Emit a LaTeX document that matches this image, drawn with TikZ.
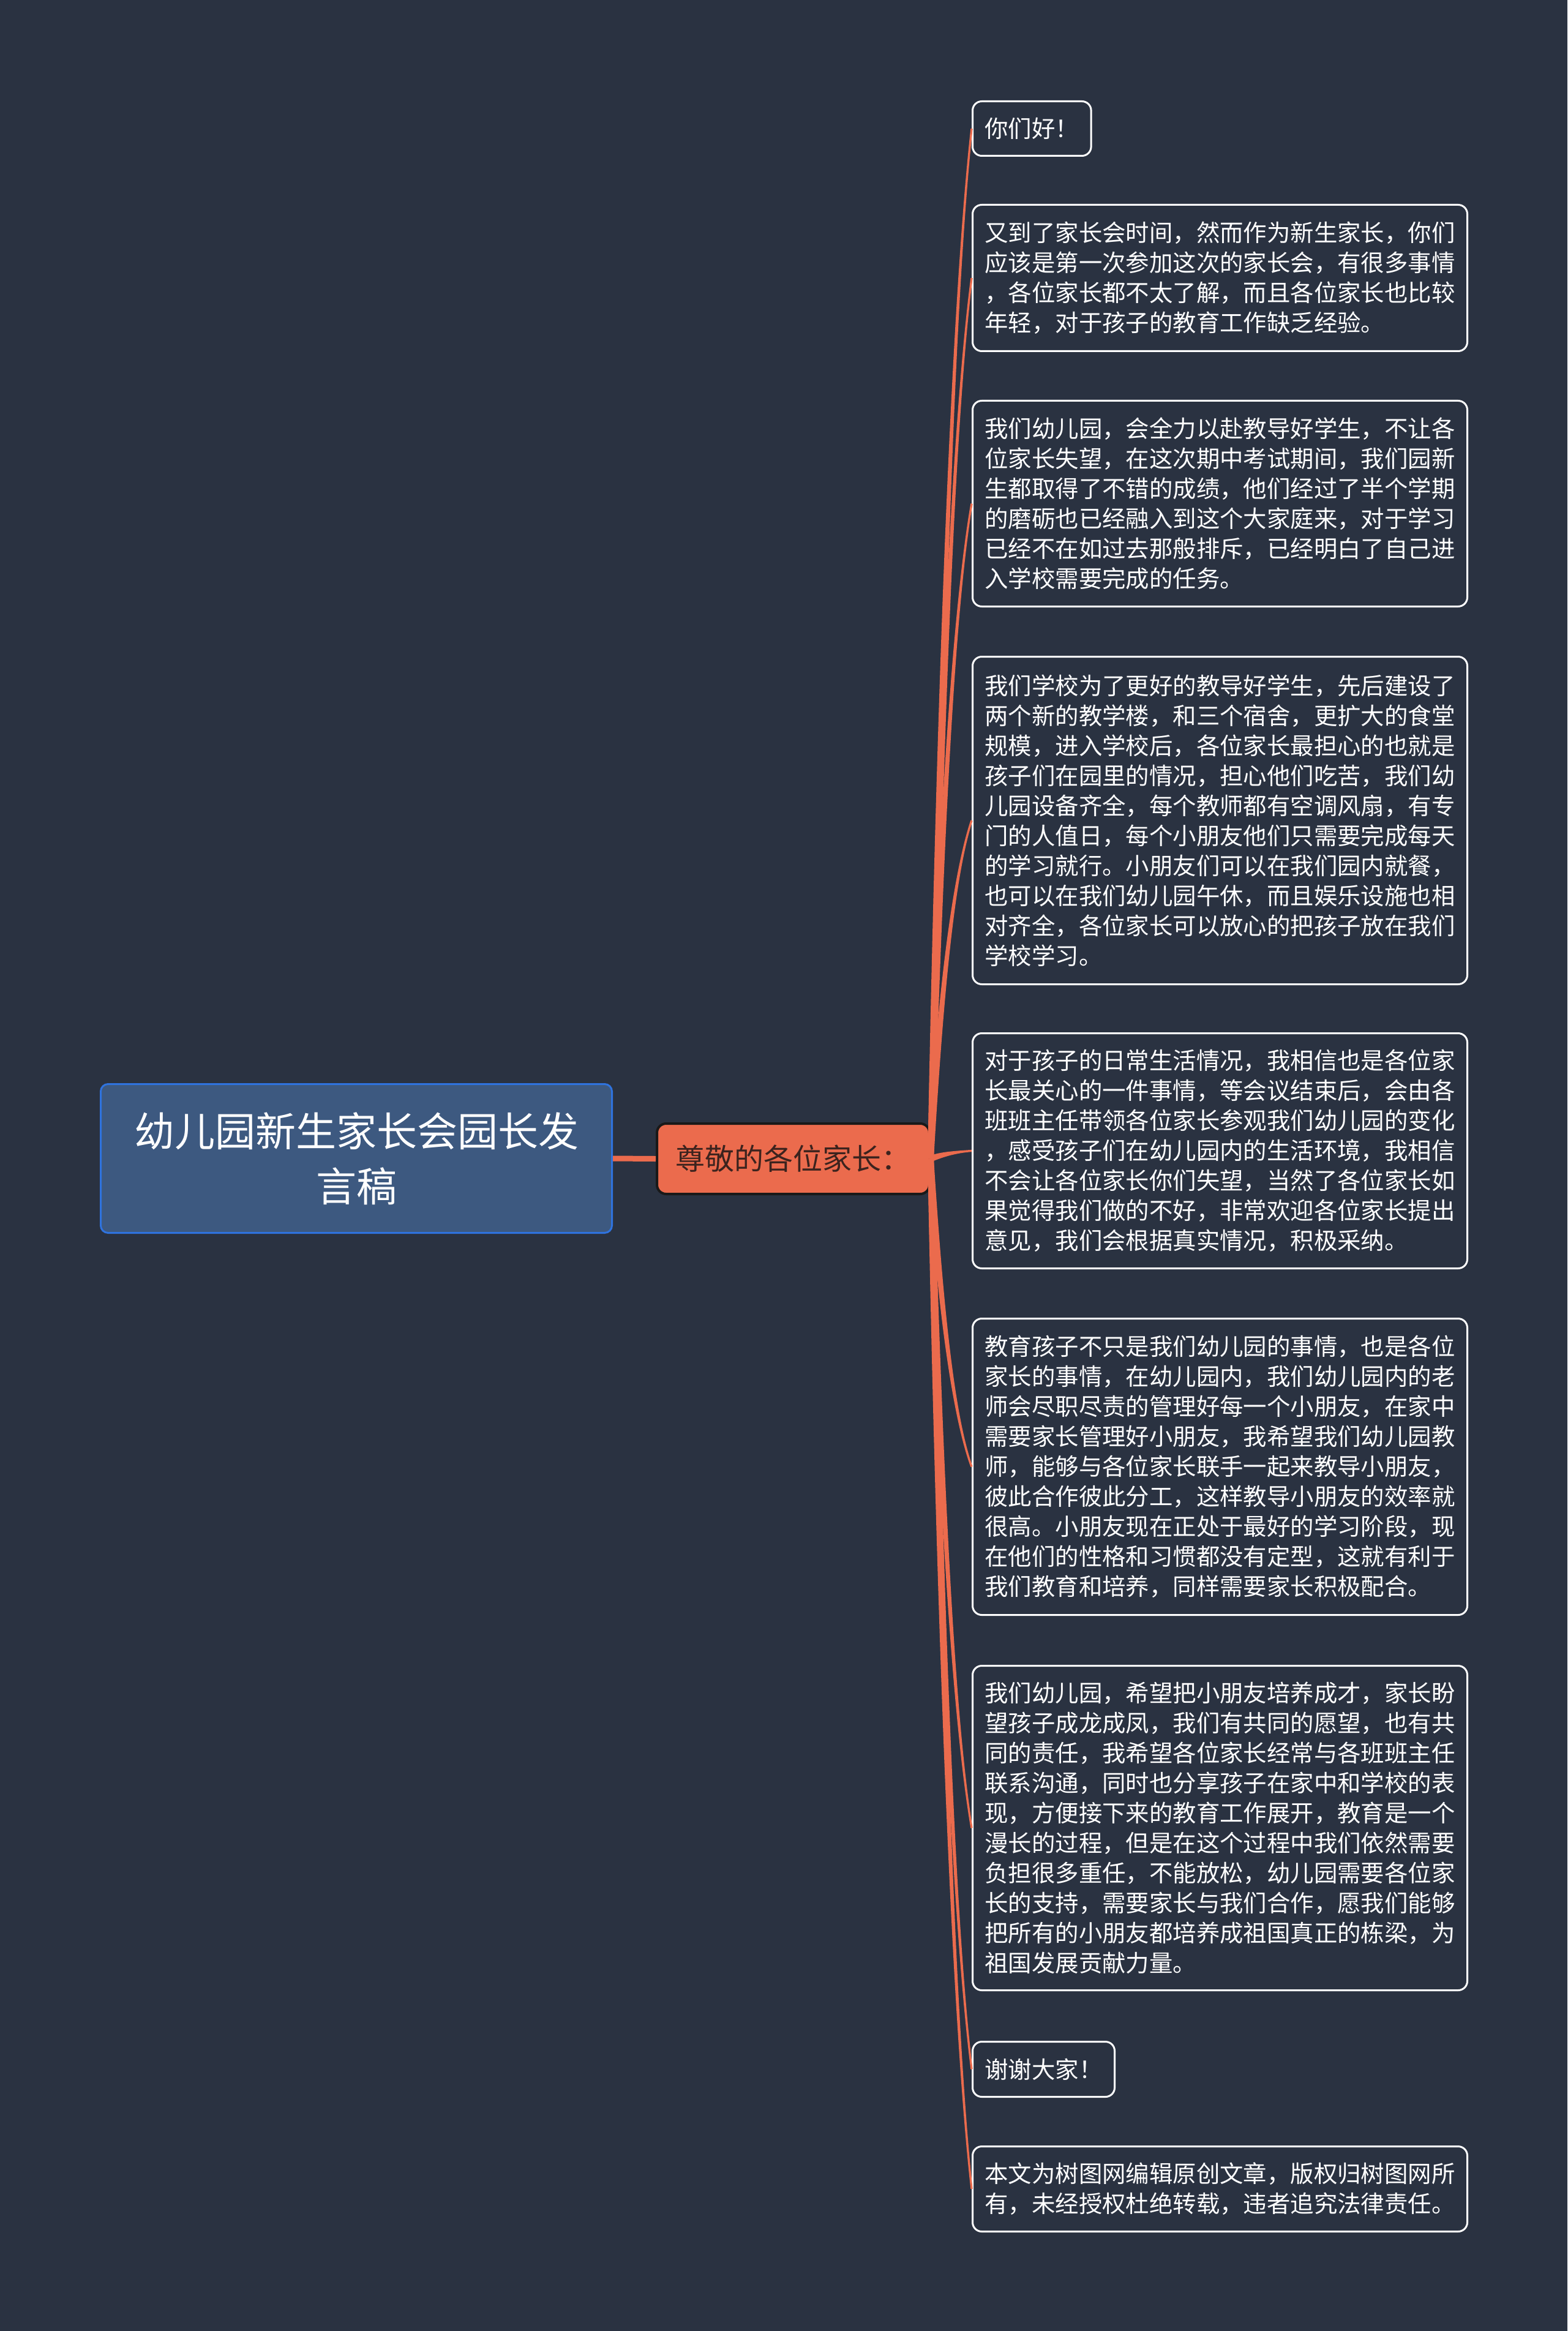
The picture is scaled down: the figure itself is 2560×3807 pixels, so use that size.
\documentclass[tikz,border=0pt]{standalone}
\usepackage{fontspec}
\setmainfont{Noto Sans CJK SC}
\usetikzlibrary{calc}
\definecolor{bgc}{RGB}{42,50,65}
\definecolor{orangec}{RGB}{235,107,77}
\definecolor{rootfill}{RGB}{61,89,128}
\definecolor{rootline}{RGB}{47,115,222}
\definecolor{midtext}{RGB}{60,35,30}
\definecolor{midline}{RGB}{25,25,25}
\newcommand\branchto[2]{%
  \fill[orangec] let \p1=(#1), \p2=(#2),
    \n1={\x2-\x1}, \n2={\y2-\y1},
    \n3={atan2(0.5133*(\n2),0.2467*(\n1))},
    \n4={atan2(0.1533*(\n2),0.42*(\n1))}
  in ($(\p1)+({\n3+90}:1.25pt)$)
   .. controls ($(\p1)+({0.2467*(\n1)*1pt},{0.5133*(\n2)*1pt})+({\n3+90}:1.25pt)$)
   and ($(\p2)+({-0.42*(\n1)*1pt},{-0.1533*(\n2)*1pt})+({\n4+90}:0.42pt)$)
   .. ($(\p2)+({\n4+90}:0.42pt)$)
   -- ($(\p2)+({\n4-90}:0.42pt)$)
   .. controls ($(\p2)+({-0.42*(\n1)*1pt},{-0.1533*(\n2)*1pt})+({\n4-90}:0.42pt)$)
   and ($(\p1)+({0.2467*(\n1)*1pt},{0.5133*(\n2)*1pt})+({\n3-90}:1.25pt)$)
   .. ($(\p1)+({\n3-90}:1.25pt)$) -- cycle;
}
\begin{document}
\begin{tikzpicture}[x=0.25pt,y=-0.25pt,
  leafbox/.style={draw=white, line width=0.75pt, rounded corners=3.75pt, fill=bgc,
    text=white, font=\fontsize{9.6pt}{12.25pt}\selectfont, align=left,
    anchor=north west, inner xsep=5pt, inner ysep=0pt},
  rootbox/.style={draw=rootline, line width=0.75pt, rounded corners=3pt, fill=rootfill,
    text=white, font=\fontsize{16.5pt}{22.5pt}\selectfont, align=center,
    anchor=north west, inner sep=0pt},
  midbox/.style={draw=midline, line width=1pt, rounded corners=3.75pt, fill=orangec,
    text=midtext, font=\fontsize{12pt}{14pt}\selectfont, align=center,
    anchor=north west, inner sep=0pt}]
\fill[bgc] (0,0) rectangle (2560,3807);
\useasboundingbox (0,0) rectangle (2560,3807);

\node[rootbox, minimum width=208.75pt, minimum height=60.75pt] (root) at (163,1769) {幼儿园新生家长会园长发\\言稿};
\node[midbox, minimum width=111.25pt, minimum height=28.75pt] (mid) at (1071,1833) {尊敬的各位家长：};

\node[leafbox, minimum width=48pt, minimum height=22.25pt] (l1) at (1587,164) {你们好！};
\node[leafbox, minimum width=202pt, minimum height=59.75pt] (l2) at (1587,333) {又到了家长会时间，然而作为新生家长，你们\\应该是第一次参加这次的家长会，有很多事情\\，各位家长都不太了解，而且各位家长也比较\\年轻，对于孩子的教育工作缺乏经验。};
\node[leafbox, minimum width=202pt, minimum height=84pt] (l3) at (1587,653) {我们幼儿园，会全力以赴教导好学生，不让各\\位家长失望，在这次期中考试期间，我们园新\\生都取得了不错的成绩，他们经过了半个学期\\的磨砺也已经融入到这个大家庭来，对于学习\\已经不在如过去那般排斥，已经明白了自己进\\入学校需要完成的任务。};
\node[leafbox, minimum width=202pt, minimum height=133.75pt] (l4) at (1587,1071) {我们学校为了更好的教导好学生，先后建设了\\两个新的教学楼，和三个宿舍，更扩大的食堂\\规模，进入学校后，各位家长最担心的也就是\\孩子们在园里的情况，担心他们吃苦，我们幼\\儿园设备齐全，每个教师都有空调风扇，有专\\门的人值日，每个小朋友他们只需要完成每天\\的学习就行。小朋友们可以在我们园内就餐，\\也可以在我们幼儿园午休，而且娱乐设施也相\\对齐全，各位家长可以放心的把孩子放在我们\\学校学习。};
\node[leafbox, minimum width=202pt, minimum height=96pt] (l5) at (1587,1686) {对于孩子的日常生活情况，我相信也是各位家\\长最关心的一件事情，等会议结束后，会由各\\班班主任带领各位家长参观我们幼儿园的变化\\，感受孩子们在幼儿园内的生活环境，我相信\\不会让各位家长你们失望，当然了各位家长如\\果觉得我们做的不好，非常欢迎各位家长提出\\意见，我们会根据真实情况，积极采纳。};
\node[leafbox, minimum width=202pt, minimum height=121pt] (l6) at (1587,2152) {教育孩子不只是我们幼儿园的事情，也是各位\\家长的事情，在幼儿园内，我们幼儿园内的老\\师会尽职尽责的管理好每一个小朋友，在家中\\需要家长管理好小朋友，我希望我们幼儿园教\\师，能够与各位家长联手一起来教导小朋友，\\彼此合作彼此分工，这样教导小朋友的效率就\\很高。小朋友现在正处于最好的学习阶段，现\\在他们的性格和习惯都没有定型，这就有利于\\我们教育和培养，同样需要家长积极配合。};
\node[leafbox, minimum width=202pt, minimum height=132.5pt] (l7) at (1587,2719) {我们幼儿园，希望把小朋友培养成才，家长盼\\望孩子成龙成凤，我们有共同的愿望，也有共\\同的责任，我希望各位家长经常与各班班主任\\联系沟通，同时也分享孩子在家中和学校的表\\现，方便接下来的教育工作展开，教育是一个\\漫长的过程，但是在这个过程中我们依然需要\\负担很多重任，不能放松，幼儿园需要各位家\\长的支持，需要家长与我们合作，愿我们能够\\把所有的小朋友都培养成祖国真正的栋梁，为\\祖国发展贡献力量。};
\node[leafbox, minimum width=57.75pt, minimum height=22.5pt] (l8) at (1587,3333) {谢谢大家！};
\node[leafbox, minimum width=202pt, minimum height=34.75pt] (l9) at (1587,3504) {本文为树图网编辑原创文章，版权归树图网所\\有，未经授权杜绝转载，违者追究法律责任。};

\draw[orangec, line width=2.25pt] (root.east) -- (mid.west);
\foreach \leaf in {l1,l2,l3,l4,l5,l6,l7,l8,l9}{\branchto{mid.east}{\leaf.west}}
\end{tikzpicture}
\end{document}
